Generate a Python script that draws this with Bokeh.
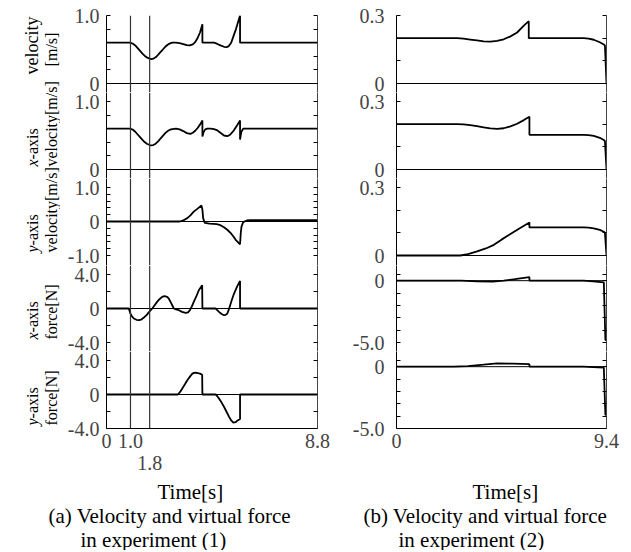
import numpy as np
from bokeh.plotting import figure
from bokeh.layouts import gridplot, row, column
from bokeh.models import Range1d, LinearAxis, FixedTicker, CustomJSTickFormatter, Span
from bokeh.embed import file_html
from bokeh.resources import INLINE
from bokeh.core.properties import value

FONT = "Liberation Serif"

# ---------------- data: experiment (1) ----------------
L_VEL_T = [0.0, 0.97, 1.1, 1.2, 1.3, 1.4, 1.5, 1.6, 1.7, 1.8, 1.87, 1.95, 2.05, 2.15, 2.25, 2.35, 2.45,
           2.55, 2.65, 2.75, 2.9, 3.05, 3.2, 3.35, 3.47, 3.6, 3.7, 3.8, 3.9, 4.0, 4.0, 4.48, 4.6, 4.75,
           4.9, 5.01, 5.1, 5.2, 5.3, 5.4, 5.5, 5.57, 5.57, 8.8]
L_VEL = [0.6, 0.6, 0.585, 0.56, 0.52, 0.48, 0.44, 0.405, 0.38, 0.365, 0.36, 0.365, 0.385, 0.42, 0.46,
         0.50, 0.54, 0.57, 0.59, 0.6, 0.6, 0.595, 0.58, 0.565, 0.56, 0.575, 0.61, 0.67, 0.75, 0.87, 0.6,
         0.6, 0.585, 0.56, 0.54, 0.535, 0.55, 0.6, 0.7, 0.8, 0.92, 1.0, 0.6, 0.6]

L_VX_T = [0.0, 0.97, 1.1, 1.2, 1.3, 1.4, 1.5, 1.6, 1.7, 1.8, 1.87, 1.95, 2.05, 2.15, 2.25, 2.35, 2.45,
          2.55, 2.65, 2.75, 2.9, 3.05, 3.2, 3.35, 3.5, 3.6, 3.7, 3.8, 3.9, 4.0, 4.0, 4.05, 4.12, 4.2,
          4.35, 4.48, 4.6, 4.75, 4.9, 5.04, 5.15, 5.3, 5.45, 5.57, 5.57, 5.62, 5.7, 8.8]
L_VX = [0.6, 0.6, 0.585, 0.555, 0.515, 0.475, 0.435, 0.4, 0.375, 0.36, 0.355, 0.36, 0.38, 0.415, 0.455,
        0.495, 0.535, 0.565, 0.585, 0.595, 0.6, 0.59, 0.565, 0.535, 0.525, 0.54, 0.57, 0.61, 0.66, 0.72,
        0.485, 0.55, 0.59, 0.6, 0.6, 0.595, 0.58, 0.54, 0.5, 0.49, 0.51, 0.57, 0.65, 0.72, 0.44, 0.55,
        0.6, 0.6]

L_VY_T = [0.0, 3.06, 3.2, 3.37, 3.5, 3.64, 3.8, 3.96, 4.0, 4.03, 4.1, 4.3, 4.6, 4.75, 4.9, 5.05, 5.18,
          5.3, 5.38, 5.5, 5.57, 5.6, 5.63, 5.7, 5.85, 6.0, 8.8]
L_VY = [0.0, 0.0, 0.03, 0.1, 0.18, 0.29, 0.38, 0.47, 0.35, 0.1, -0.04, -0.06, -0.08, -0.11, -0.17,
        -0.25, -0.34, -0.45, -0.53, -0.62, -0.67, -0.34, -0.15, -0.02, 0.03, 0.04, 0.04]

L_FX_T = [0.0, 0.93, 1.0, 1.07, 1.14, 1.25, 1.35, 1.45, 1.56, 1.67, 1.77, 1.91, 2.0, 2.11, 2.22, 2.32,
          2.42, 2.53, 2.6, 2.67, 2.81, 2.9, 3.02, 3.15, 3.3, 3.4, 3.48, 3.56, 3.64, 3.75, 3.85, 3.99,
          4.0, 4.55, 4.62, 4.69, 4.8, 4.9, 4.97, 5.04, 5.11, 5.18, 5.25, 5.32, 5.45, 5.57, 5.57, 8.8]
L_FX = [0, 0, -0.6, -0.95, -1.18, -1.33, -1.38, -1.3, -1.06, -0.78, -0.43, 0, 0.35, 0.78, 1.12, 1.37,
        1.45, 1.37, 1.15, 0.78, 0, -0.1, -0.2, -0.4, -0.52, -0.45, -0.2, 0.25, 0.78, 1.45, 2.15, 2.74,
        0, 0, -0.2, -0.4, -0.65, -0.79, -0.75, -0.59, -0.05, 0.59, 1.2, 1.76, 2.6, 3.25, 0, 0]

L_FY_T = [0.0, 2.98, 3.07, 3.16, 3.27, 3.37, 3.48, 3.58, 3.65, 3.72, 3.81, 3.9, 3.99, 4.0, 4.55, 4.62,
          4.69, 4.8, 4.9, 5.0, 5.11, 5.2, 5.29, 5.38, 5.47, 5.57, 5.57, 8.8]
L_FY = [0, 0, 0.3, 0.7, 1.2, 1.67, 2.1, 2.45, 2.55, 2.56, 2.52, 2.45, 2.33, 0, 0, -0.2, -0.47, -0.95,
        -1.44, -2.0, -2.61, -3.05, -3.31, -3.26, -3.05, -2.88, 0, 0]

# ---------------- data: experiment (2) ----------------
R_VEL_T = [0.0, 2.72, 3.0, 3.3, 3.6, 3.9, 4.21, 4.5, 4.8, 5.1, 5.4, 5.7, 5.92, 5.92, 8.38, 8.6, 8.83,
           9.1, 9.28, 9.33, 9.4]
R_VEL = [0.2, 0.2, 0.198, 0.194, 0.19, 0.186, 0.185, 0.188, 0.195, 0.208, 0.225, 0.255, 0.275, 0.2,
         0.2, 0.198, 0.193, 0.182, 0.172, 0.168, 0.0]

R_VX_T = [0.0, 2.72, 3.0, 3.3, 3.6, 3.9, 4.2, 4.51, 4.8, 5.1, 5.4, 5.7, 5.95, 5.95, 8.38, 8.6, 8.83,
          9.1, 9.28, 9.33, 9.4]
R_VX = [0.2, 0.2, 0.199, 0.196, 0.191, 0.186, 0.181, 0.179, 0.182, 0.19, 0.202, 0.218, 0.233, 0.153,
        0.153, 0.152, 0.148, 0.14, 0.13, 0.126, 0.0]

R_VY_T = [0.0, 2.86, 3.2, 3.61, 4.0, 4.36, 4.7, 5.1, 5.5, 5.95, 5.95, 8.38, 8.6, 8.83, 9.1, 9.28, 9.33, 9.4]
R_VY = [0.0, 0.0, 0.006, 0.018, 0.031, 0.047, 0.07, 0.095, 0.119, 0.146, 0.124, 0.124, 0.123, 0.12,
        0.113, 0.105, 0.1, 0.0]

R_FX_T = [0.0, 2.9, 3.6, 4.3, 4.8, 5.3, 5.95, 5.95, 8.38, 8.8, 9.28, 9.35, 9.38]
R_FX = [0.0, 0.0, -0.06, -0.08, 0.0, 0.12, 0.28, 0.0, 0.0, -0.05, -0.13, -4.8, -4.8]

R_FY_T = [0.0, 2.57, 3.2, 3.9, 4.51, 5.2, 5.95, 5.95, 8.38, 8.8, 9.28, 9.35, 9.38]
R_FY = [0.0, 0.0, 0.05, 0.16, 0.26, 0.24, 0.2, 0.0, 0.0, -0.03, -0.08, -3.9, -3.9]

# axis settings
L_XMAX = 8.8
R_XMAX = 9.4
L_XTICKS = [0, 1.0, 8.8]
L_XTICKS2 = [1.8]
L_VLINES = [1.0, 1.8]
R_XTICKS = [0, 9.4]

LEFT = [
    dict(t=L_VEL_T, v=L_VEL, lo=0.0, hi=1.0, major=[0, 1.0], minor=[0.2, 0.4, 0.6, 0.8]),
    dict(t=L_VX_T, v=L_VX, lo=0.0, hi=1.0, major=[0, 1.0], minor=[0.2, 0.4, 0.6, 0.8]),
    dict(t=L_VY_T, v=L_VY, lo=-1.0, hi=1.0, major=[-1.0, 0, 1.0],
         minor=[-0.8, -0.6, -0.4, -0.2, 0.2, 0.4, 0.6, 0.8]),
    dict(t=L_FX_T, v=L_FX, lo=-4.0, hi=4.0, major=[-4.0, 0, 4.0], minor=[-2.0, 2.0]),
    dict(t=L_FY_T, v=L_FY, lo=-4.0, hi=4.0, major=[-4.0, 0, 4.0], minor=[-2.0, 2.0]),
]
RIGHT = [
    dict(t=R_VEL_T, v=R_VEL, lo=0.0, hi=0.3, major=[0, 0.3], minor=[0.1, 0.2]),
    dict(t=R_VX_T, v=R_VX, lo=0.0, hi=0.3, major=[0, 0.3], minor=[0.1, 0.2]),
    dict(t=R_VY_T, v=R_VY, lo=0.0, hi=0.3, major=[0, 0.3], minor=[0.1, 0.2]),
    dict(t=R_FX_T, v=R_FX, lo=-5.0, hi=0.5, major=[-5.0, 0], minor=[-4.0, -3.0, -2.0, -1.0, 0.5]),
    dict(t=R_FY_T, v=R_FY, lo=-5.0, hi=0.5, major=[-5.0, 0], minor=[-4.0, -3.0, -2.0, -1.0, 0.5]),
]

# y-axis titles (two columns of rotated text per panel)
Y_TITLES = [
    (None, "velocity", "[m/s]"),
    ("x", "-axis", "velocity[m/s]"),
    ("y", "-axis", "velocity[m/s]"),
    ("x", "-axis", "force[N]"),
    ("y", "-axis", "force[N]"),
]

# layout (page pixels, origin at top-left of the page)
PANEL_TOP = [15, 101, 187, 274, 360]
SPAN = 68
EDGES = [15, 92, 178, 265, 351, 428]
TOP_BORDER = 15
BOTTOM_BORDER = 50
LBL_W = 60
L_MB_LEFT, L_FW, L_MB_RIGHT = 46, 211, 29
R_MB_LEFT, R_FW, R_MB_RIGHT = 50, 210, 15
L_WIDTH = L_MB_LEFT + L_FW + L_MB_RIGHT
R_WIDTH = R_MB_LEFT + R_FW + R_MB_RIGHT
GRID_H = TOP_BORDER + (EDGES[-1] - EDGES[0]) + BOTTOM_BORDER
CAP_H = 550 - GRID_H

fmt_code = "return tick == 0 ? '0' : tick.toFixed(1);"


def tick_axis(spec, side, standoff):
    ax = LinearAxis(ticker=FixedTicker(ticks=spec["major"], minor_ticks=spec["minor"]))
    if side == "left":
        ax.formatter = CustomJSTickFormatter(code=fmt_code)
    else:
        ax.formatter = CustomJSTickFormatter(code="return '';")
    ax.major_tick_in = 4
    ax.major_tick_out = 0
    ax.minor_tick_in = 4
    ax.minor_tick_out = 0
    ax.major_tick_line_color = "black"
    ax.minor_tick_line_color = "black"
    ax.axis_line_color = "black" if side == "left" else "#444444"
    ax.major_label_text_font = FONT
    ax.major_label_text_font_size = "20px"
    ax.major_label_standoff = standoff
    return ax


def make_panel(k, spec, col):
    T = PANEL_TOP[k]
    B = T + SPAN
    top_px, bot_px = EDGES[k], EDGES[k + 1]
    s = (spec["hi"] - spec["lo"]) / SPAN
    y0 = spec["lo"] - (bot_px - B) * s
    y1 = spec["hi"] + (T - top_px) * s
    if col == "L":
        xmax, fw, mbl, mbr, standoff = L_XMAX, L_FW, L_MB_LEFT, L_MB_RIGHT, 7
    else:
        xmax, fw, mbl, mbr, standoff = R_XMAX, R_FW, R_MB_LEFT, R_MB_RIGHT, 12
    p = figure(frame_width=fw, frame_height=bot_px - top_px,
               x_range=Range1d(0, xmax), y_range=Range1d(y0, y1),
               output_backend="svg", toolbar_location=None, tools="",
               x_axis_location=None, y_axis_location=None,
               min_border_left=mbl, min_border_right=mbr,
               min_border_top=TOP_BORDER if k == 0 else 0,
               min_border_bottom=BOTTOM_BORDER if k == 4 else 0)
    p.grid.grid_line_color = None
    p.outline_line_color = None
    p.border_fill_color = "white"
    p.add_layout(tick_axis(spec, "left", standoff), "left")
    p.add_layout(tick_axis(spec, "right", 0), "right")
    p.add_layout(Span(location=0, dimension="width", line_color="black", line_width=1))
    if col == "L":
        for xv in L_VLINES:
            p.add_layout(Span(location=xv, dimension="height", line_color="#333333", line_width=1.2))
    p.line(spec["t"], spec["v"], line_color="black", line_width=1.8)
    if k == 4:
        ticks = L_XTICKS if col == "L" else R_XTICKS
        xa = LinearAxis(ticker=FixedTicker(ticks=ticks), formatter=CustomJSTickFormatter(code=fmt_code))
        xa.major_tick_in = 0
        xa.major_tick_out = 0
        xa.minor_tick_in = 0
        xa.minor_tick_out = 0
        xa.axis_line_color = "black"
        xa.major_label_text_font = FONT
        xa.major_label_text_font_size = "20px"
        xa.major_label_standoff = 5
        p.add_layout(xa, "below")
        if col == "L":
            xb = LinearAxis(ticker=FixedTicker(ticks=L_XTICKS2),
                            formatter=CustomJSTickFormatter(code="return tick.toFixed(1);"))
            xb.major_tick_in = 0
            xb.major_tick_out = 0
            xb.minor_tick_in = 0
            xb.minor_tick_out = 0
            xb.axis_line_color = None
            xb.major_label_text_font = FONT
            xb.major_label_text_font_size = "20px"
            xb.major_label_standoff = 5
            p.add_layout(xb, "below")
    return p


left_figs = [make_panel(k, LEFT[k], "L") for k in range(5)]
right_figs = [make_panel(k, RIGHT[k], "R") for k in range(5)]

# ---- figure that carries the rotated y-axis titles (pixel coordinates) ----
lab = figure(width=LBL_W, height=GRID_H, x_range=Range1d(0, LBL_W), y_range=Range1d(0, GRID_H),
             output_backend="svg", toolbar_location=None, tools="",
             x_axis_location=None, y_axis_location=None,
             min_border_left=0, min_border_right=0, min_border_top=0, min_border_bottom=0)
lab.grid.grid_line_color = None
lab.outline_line_color = None

COL1, COL2 = 32, 51
XW = 7.1
TS = "16px"


def ytext(x, py, txt, align="left", italic=False, size=TS):
    lab.text(x=[x], y=[GRID_H - py], text=[txt], angle=np.pi / 2, text_font=value(FONT),
             text_font_size=size, text_align=align, text_baseline="alphabetic",
             text_font_style="italic" if italic else "normal", text_color="black")


ytext(COL1 - 1, 45, Y_TITLES[0][1], align="center", size="18px")
ytext(COL2, 49, Y_TITLES[0][2], align="center")
for k in range(1, 5):
    B = PANEL_TOP[k] + SPAN
    letter, rest, unit = Y_TITLES[k]
    ytext(COL1, B - 3, letter, italic=True)
    ytext(COL1, B - 3 - XW, rest)
    ytext(COL2, B - 3, unit)

# ---- captions ----
L_CAP = [("Time[s]", 157, 491), ("(a) Velocity and virtual force", 48, 515), ("in experiment (1)", 80, 539)]
R_CAP = [("Time[s]", 472, 491), ("(b) Velocity and virtual force", 363, 515), ("in experiment (2)", 398, 539)]


def caption_fig(width, left_abs, items):
    c = figure(width=width, height=CAP_H, x_range=Range1d(0, width), y_range=Range1d(0, CAP_H),
               output_backend="svg", toolbar_location=None, tools="",
               x_axis_location=None, y_axis_location=None,
               min_border_left=0, min_border_right=0, min_border_top=0, min_border_bottom=0)
    c.grid.grid_line_color = None
    c.outline_line_color = None
    c.text(x=[it[1] - left_abs for it in items], y=[CAP_H - (it[2] - GRID_H) for it in items],
           text=[it[0] for it in items], text_font=value(FONT), text_font_size="21px",
           text_align="left", text_baseline="alphabetic", text_color="black")
    return c


cap_l = caption_fig(LBL_W + L_WIDTH, 0, L_CAP)
cap_r = caption_fig(R_WIDTH, LBL_W + L_WIDTH, R_CAP)

grid = gridplot([[left_figs[k], right_figs[k]] for k in range(5)], toolbar_location=None)
layout = column(row(lab, grid), row(cap_l, cap_r))

open("out.html", "w").write(file_html(layout, INLINE))
